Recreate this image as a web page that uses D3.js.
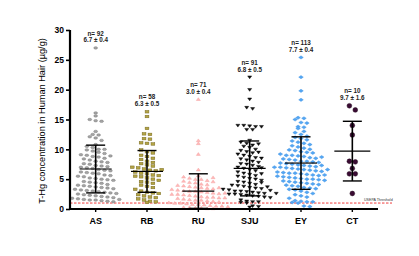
<!DOCTYPE html>
<html>
<head>
<meta charset="utf-8">
<script src="https://cdn.jsdelivr.net/npm/d3@7"></script>
<style>
  body { margin: 0; background: #fff; }
  svg { display: block; font-family: "Liberation Sans", Arial, sans-serif; }
</style>
</head>
<body>
<svg id="chart"></svg>
<script>
const width = 419, height = 256;

// categories and their values
const categories = ["AS", "RB", "RU", "SJU", "EY", "CT"];
const AS = [27.0, 16.1, 15.6, 15.0, 14.8, 14.7, 13.0, 12.5, 12.4, 12.1,
  11.9, 11.5, 10.8, 10.5, 10.3, 10.0, 10.0, 9.9, 9.7, 9.5,
  9.3, 9.1, 9.0, 8.8, 8.7, 8.5, 8.4, 8.2, 8.0, 7.9,
  7.8, 7.6, 7.5, 7.3, 7.2, 7.0, 6.9, 6.8, 6.6, 6.5,
  6.4, 6.2, 6.1, 6.0, 5.9, 5.7, 5.6, 5.5, 5.4, 5.2,
  5.1, 5.0, 4.9, 4.8, 4.6, 4.5, 4.4, 4.3, 4.1, 4.0,
  3.9, 3.8, 3.7, 3.6, 3.5, 3.4, 3.3, 3.2, 3.1, 3.0,
  2.9, 2.8, 2.7, 2.6, 2.5, 2.4, 2.3, 2.2, 2.1, 2.0,
  1.9, 1.8, 1.7, 1.6, 1.5, 1.5, 1.4, 1.3, 1.2, 1.6,
  8.9, 7.1];
const RB = [16.3, 15.5, 13.5, 12.6, 12.5, 11.8, 11.7, 11.1, 11.0, 10.9,
  9.9, 9.6, 9.4, 9.0, 8.8, 8.5, 8.3, 8.0, 7.8, 7.6,
  7.4, 7.2, 7.0, 6.9, 6.7, 6.5, 6.4, 6.2, 6.0, 5.9,
  5.7, 5.5, 5.4, 5.2, 5.0, 4.8, 4.6, 4.5, 4.3, 4.0,
  3.8, 3.6, 3.3, 3.0, 2.8, 2.7, 2.6, 2.4, 2.2, 2.0,
  1.9, 1.7, 1.5, 1.3, 1.2, 1.1, 6.6, 5.6];
const RU = [18.4, 11.5, 11.0, 9.2, 6.6, 5.6, 5.4, 5.2, 5.0, 5.0,
  4.8, 4.7, 4.5, 4.4, 4.2, 4.1, 4.0, 3.9, 3.8, 3.7,
  3.6, 3.5, 3.4, 3.3, 3.2, 3.1, 3.0, 3.0, 2.9, 2.8,
  2.7, 2.6, 2.5, 2.5, 2.4, 2.3, 2.2, 2.1, 2.0, 2.0,
  1.9, 1.8, 1.7, 1.6, 1.5, 1.5, 1.4, 1.3, 1.2, 1.1,
  1.0, 1.0, 0.9, 0.8, 0.8, 0.7, 0.6, 0.5, 0.5, 0.4,
  0.3, 0.3, 0.2, 0.2, 0.1, 0.1, 3.6, 2.7, 1.9, 4.6,
  5.3];
const SJU = [22.1, 20.0, 18.4, 17.0, 16.8, 14.0, 14.0, 13.9, 13.8, 13.8,
  13.3, 13.3, 11.5, 11.2, 11.0, 10.7, 10.5, 10.3, 10.0, 9.8,
  9.6, 9.4, 9.2, 9.0, 8.8, 8.6, 8.4, 8.2, 8.0, 7.8,
  7.6, 7.5, 7.3, 7.0, 6.8, 6.6, 6.4, 6.2, 6.0, 5.8,
  5.6, 5.5, 5.3, 5.1, 5.0, 4.8, 4.6, 4.5, 4.3, 4.1,
  4.0, 3.9, 3.8, 3.6, 3.5, 3.4, 3.3, 3.2, 3.0, 3.0,
  2.9, 2.8, 2.7, 2.6, 2.5, 2.5, 2.4, 2.3, 2.2, 2.1,
  2.0, 1.9, 1.5, 1.3, 1.2, 1.2, 1.1, 1.0, 0.5, 0.4,
  0.3, 9.5, 8.5, 7.1, 5.9, 4.4, 3.7, 3.1, 2.6, 6.9,
  10.9];
const EY = [25.4, 22.1, 19.8, 18.3, 15.3, 15.2, 15.0, 14.5, 14.4, 13.8,
  13.7, 13.5, 13.0, 12.8, 12.5, 12.2, 12.0, 11.8, 11.6, 11.4,
  11.2, 11.0, 10.8, 10.6, 10.4, 10.2, 10.0, 9.9, 9.8, 9.6,
  9.5, 9.4, 9.2, 9.0, 9.0, 8.9, 8.8, 8.6, 8.5, 8.4,
  8.3, 8.2, 8.0, 8.0, 7.9, 7.8, 7.7, 7.6, 7.5, 7.4,
  7.3, 7.2, 7.1, 7.0, 7.0, 6.9, 6.8, 6.7, 6.6, 6.5,
  6.4, 6.3, 6.2, 6.1, 6.0, 6.0, 5.9, 5.8, 5.7, 5.6,
  5.5, 5.4, 5.3, 5.2, 5.1, 5.0, 5.0, 4.9, 4.8, 4.7,
  4.6, 4.5, 4.4, 4.3, 4.2, 4.0, 3.9, 3.8, 3.6, 3.5,
  3.4, 3.3, 3.2, 3.0, 2.8, 2.6, 2.4, 2.2, 2.0, 1.8,
  1.4, 1.3, 1.2, 1.2, 1.1, 1.0, 0.5, 0.4, 8.7, 7.3,
  6.6, 5.7, 4.1];
const CT = [17.3, 16.6, 14.0, 12.4, 8.0, 7.9, 6.8, 5.9, 5.9, 2.6];

const seriesValues = [AS, RB, RU, SJU, EY, CT];
const means = [6.7, 6.3, 3.0, 6.8, 7.7, 9.7];
const sds = [4.0, 3.5, 2.9, 4.6, 4.4, 5.0];
const nLabels = ["n= 92", "n= 58", "n= 71", "n= 91", "n= 113", "n= 10"];
const statLabels = ["6.7 ± 0.4", "6.3 ± 0.5", "3.0 ± 0.4", "6.8 ± 0.5", "7.7 ± 0.4", "9.7 ± 1.6"];
const yTicks = [0, 5, 10, 15, 20, 25, 30];
const threshold = 1.0;

// marker look per group
const markerStyle = [
  { shape: "ellipse", fill: "#a4a4a4", stroke: "#7a7a7a" },
  { shape: "square", fill: "#b3a445", stroke: "#74661f" },
  { shape: "triUp", fill: "#ffb8b8", stroke: "#f4a0a0" },
  { shape: "triDown", fill: "#111", stroke: "#000" },
  { shape: "diamond", fill: "#52a6f4", stroke: "#3f92e2" },
  { shape: "circle", fill: "#3a0b33", stroke: "#1c0418" }
];

const svg = d3.select("#chart")
  .attr("width", width)
  .attr("height", height);

const x = d3.scaleBand()
  .domain(categories)
  .range([70, 378])
  .padding(0);

const y = d3.scaleLinear()
  .domain([0, 30])
  .range([209, 30]);

// threshold line
svg.append("line")
  .attr("x1", 70).attr("x2", 392)
  .attr("y1", y(threshold)).attr("y2", y(threshold))
  .attr("stroke", "#f03c3c")
  .attr("stroke-width", 1)
  .attr("stroke-dasharray", "2.5,1.5");

svg.append("text")
  .attr("x", 364).attr("y", y(threshold) - 2.5)
  .attr("font-size", 3.6)
  .attr("fill", "#333")
  .text("USEPA Threshold");

// simple column scatter: points in the same row get spread sideways
function spread(values) {
  const rowH = 4.4, step = 5.9;
  const rows = d3.group(values.map(v => ({ v, py: y(v) })), d => Math.floor(d.py / rowH));
  const out = [];
  rows.forEach(pts => {
    pts.forEach((p, i) => {
      out.push({ v: p.v, dx: (i - (pts.length - 1) / 2) * step });
    });
  });
  return out;
}

function drawMarker(g, style, cx, cy) {
  let m;
  if (style.shape === "ellipse") {
    m = g.append("ellipse").attr("cx", cx).attr("cy", cy).attr("rx", 1.9).attr("ry", 1.25);
  } else if (style.shape === "circle") {
    m = g.append("circle").attr("cx", cx).attr("cy", cy).attr("r", 2.4);
  } else if (style.shape === "square") {
    m = g.append("rect").attr("x", cx - 1.9).attr("y", cy - 1.3).attr("width", 3.8).attr("height", 2.6);
  } else if (style.shape === "triUp") {
    m = g.append("path").attr("d", `M${cx - 2},${cy + 1.3}L${cx + 2},${cy + 1.3}L${cx},${cy - 1.5}Z`);
  } else if (style.shape === "triDown") {
    m = g.append("path").attr("d", `M${cx - 2},${cy - 1.2}L${cx + 2},${cy - 1.2}L${cx},${cy + 1.6}Z`);
  } else {
    m = g.append("path").attr("d", `M${cx - 2.3},${cy}L${cx},${cy - 1.6}L${cx + 2.3},${cy}L${cx},${cy + 1.6}Z`);
  }
  m.attr("fill", style.fill).attr("stroke", style.stroke).attr("stroke-width", 0.45);
}

const groups = svg.append("g");

categories.forEach((cat, i) => {
  const cx = x(cat) + x.bandwidth() / 2;
  const g = groups.append("g");
  spread(seriesValues[i]).forEach(p => drawMarker(g, markerStyle[i], cx + p.dx, y(p.v)));

  // mean and sd bars
  const lo = Math.max(0, means[i] - sds[i]), hi = means[i] + sds[i];
  const meanW = i === 5 ? 18 : 16;
  g.append("line")
    .attr("x1", cx).attr("x2", cx)
    .attr("y1", y(lo)).attr("y2", y(hi))
    .attr("stroke", "#000").attr("stroke-width", 1.6);
  [lo, hi].forEach(v => {
    g.append("line")
      .attr("x1", cx - 9.5).attr("x2", cx + 9.5)
      .attr("y1", y(v)).attr("y2", y(v))
      .attr("stroke", "#000").attr("stroke-width", 1.4);
  });
  g.append("line")
    .attr("x1", cx - meanW).attr("x2", cx + meanW)
    .attr("y1", y(means[i])).attr("y2", y(means[i]))
    .attr("stroke", "#000").attr("stroke-width", 1.2);

  // n and mean ± se above the points
  const top = y(d3.max(seriesValues[i]));
  g.append("text")
    .attr("x", cx).attr("y", top - 12.3)
    .attr("text-anchor", "middle")
    .attr("font-size", 6.3).attr("font-weight", "bold").attr("fill", "#222")
    .text(nLabels[i]);
  g.append("text")
    .attr("x", cx).attr("y", top - 5.6)
    .attr("text-anchor", "middle")
    .attr("font-size", 6.3).attr("font-weight", "bold").attr("fill", "#222")
    .text(statLabels[i]);
});

// axes
const yAxis = svg.append("g")
  .attr("transform", "translate(70,0)")
  .call(d3.axisLeft(y).tickValues(yTicks).tickSize(4).tickPadding(2));
yAxis.select(".domain").attr("stroke-width", 2.2).attr("d", `M0,${y(0) + 1}V${y(30)}`);
yAxis.selectAll(".tick line").attr("stroke-width", 1.6);
yAxis.selectAll(".tick text")
  .attr("font-size", 8.5).attr("font-weight", "bold").attr("fill", "#000")
  .attr("font-family", "Liberation Sans, Arial, sans-serif");

const xAxis = svg.append("g")
  .attr("transform", `translate(0,${y(0)})`)
  .call(d3.axisBottom(x).tickSize(3).tickPadding(6));
xAxis.select(".domain").attr("stroke-width", 1.8).attr("d", "M69,0H378");
xAxis.selectAll(".tick line").attr("stroke-width", 1.4);
xAxis.selectAll(".tick text")
  .attr("font-size", 9).attr("font-weight", "bold").attr("fill", "#000")
  .attr("font-family", "Liberation Sans, Arial, sans-serif");

svg.append("text")
  .attr("transform", "translate(45,121) rotate(-90)")
  .attr("text-anchor", "middle")
  .attr("font-size", 9.2)
  .attr("fill", "#000")
  .text("T-Hg concentration in Human  Hair  (µg/g)");
</script>
</body>
</html>
